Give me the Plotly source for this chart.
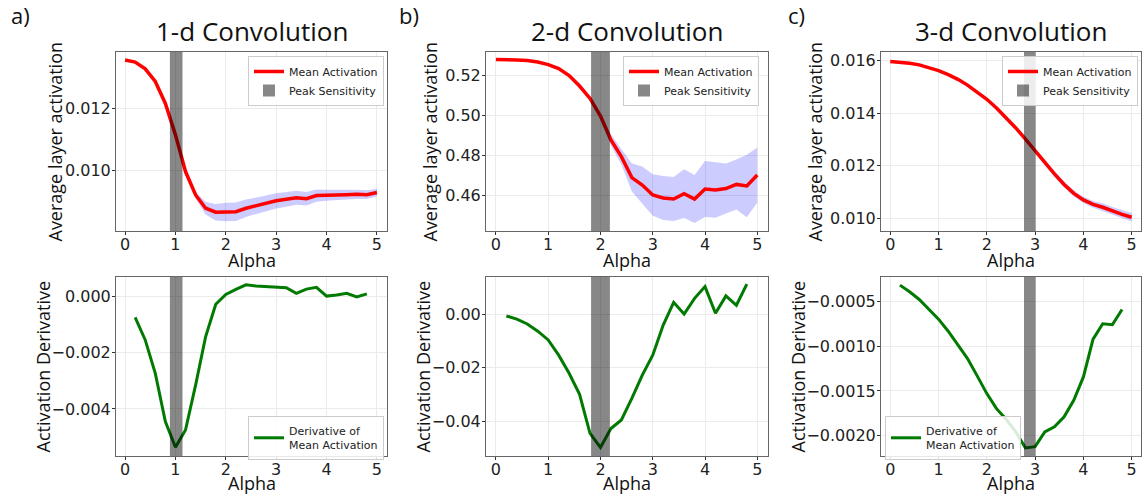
import plotly.graph_objects as go

# ---------------- data ----------------
alpha = [0.0, 0.2, 0.4, 0.6, 0.8, 1.0, 1.2, 1.4, 1.6, 1.8, 2.0, 2.2, 2.4, 2.6, 2.8,
         3.0, 3.2, 3.4, 3.6, 3.8, 4.0, 4.2, 4.4, 4.6, 4.8, 5.0]
alpha_d = [0.2, 0.4, 0.6, 0.8, 1.0, 1.2, 1.4, 1.6, 1.8, 2.0, 2.2, 2.4, 2.6, 2.8,
           3.0, 3.2, 3.4, 3.6, 3.8, 4.0, 4.2, 4.4, 4.6, 4.8]

mean_1d = [0.01357, 0.01350, 0.01328, 0.01287, 0.01216, 0.01114, 0.00995, 0.00919,
           0.00876, 0.00863, 0.00864, 0.00865, 0.00876, 0.00884, 0.00892, 0.00900,
           0.00905, 0.00910, 0.00907, 0.00917, 0.00918, 0.00918, 0.00920, 0.00921,
           0.00920, 0.00927]
std_1d = [0.00002, 0.00002, 0.00002, 0.00003, 0.00003, 0.00004, 0.00006, 0.00011,
          0.00020, 0.00027, 0.00030, 0.00030, 0.00028, 0.00027, 0.00026, 0.00025,
          0.00024, 0.00023, 0.00022, 0.00020, 0.00018, 0.00017, 0.00016, 0.00015,
          0.00014, 0.00012]
deriv_1d = [-0.00074, -0.00154, -0.00273, -0.00445, -0.00536, -0.00475, -0.00315,
            -0.00142, -0.00027, 0.00008, 0.00026, 0.00042, 0.00038, 0.00036, 0.00033,
            0.00032, 0.00012, 0.00027, 0.00033, 0.00002, 0.00006, 0.00012, -0.00001,
            0.00010]

mean_2d = [0.5277, 0.5277, 0.5275, 0.5272, 0.5265, 0.5252, 0.5232, 0.5197, 0.5145,
           0.5083, 0.4995, 0.4875, 0.4792, 0.4687, 0.4650, 0.4600, 0.4585, 0.4580,
           0.4607, 0.4580, 0.4630, 0.4625, 0.4632, 0.4653, 0.4645, 0.4700]
std_2d = [0.0002, 0.0002, 0.0002, 0.0002, 0.0002, 0.0003, 0.0004, 0.0005, 0.0008,
          0.0012, 0.0018, 0.0027, 0.0040, 0.0070, 0.0093, 0.0104, 0.0110, 0.0110,
          0.0122, 0.0120, 0.0140, 0.0139, 0.0125, 0.0125, 0.0156, 0.0138]
deriv_2d = [-0.0006, -0.0018, -0.0036, -0.0063, -0.0096, -0.0153, -0.0221, -0.0300,
            -0.0446, -0.0499, -0.0428, -0.0396, -0.0315, -0.0228, -0.0153, -0.0040,
            0.0045, 0.0001, 0.0060, 0.0104, 0.0004, 0.0069, 0.0034, 0.0113]

mean_3d = [0.01597, 0.01594, 0.01590, 0.01584, 0.01573, 0.01562, 0.01547, 0.01529,
           0.01507, 0.01482, 0.01453, 0.01420, 0.01384, 0.01344, 0.01301, 0.01256,
           0.01212, 0.01169, 0.01129, 0.01095, 0.01070, 0.01053, 0.01042, 0.01028,
           0.01015, 0.01004]
std_3d = [0.00002, 0.00002, 0.00002, 0.00002, 0.00002, 0.00002, 0.00002, 0.00002,
          0.00002, 0.00003, 0.00003, 0.00003, 0.00004, 0.00005, 0.00007, 0.00009,
          0.00010, 0.00011, 0.00012, 0.00012, 0.00012, 0.00013, 0.00015, 0.00015,
          0.00015, 0.00016]
deriv_3d = [-0.000313, -0.000388, -0.000474, -0.000582, -0.000695, -0.000830,
            -0.000987, -0.001137, -0.001331, -0.001530, -0.001699, -0.001818,
            -0.001960, -0.002140, -0.002125, -0.001960, -0.001903, -0.001791,
            -0.001605, -0.001343, -0.000920, -0.000747, -0.000758, -0.000586]

titles = ["1-d Convolution", "2-d Convolution", "3-d Convolution"]
panel_labels = ["a)", "b)", "c)"]
peak_lo = [0.89, 1.82, 2.77]
peak_hi = [1.14, 2.18, 3.01]

# ---------------- layout geometry ----------------
W, H = 1145, 495
xdom_px = [(116, 387), (486, 768), (881, 1141)]
top_px = (52, 231)
bot_px = (277, 456)
xranges = [[-0.18, 5.2], [-0.19, 5.205], [-0.192, 5.193]]
top_ranges = [[0.008022, 0.013827], [0.442, 0.5315], [0.009517, 0.01633]]
bot_ranges = [[-0.005674, 0.0007], [-0.0531, 0.014], [-0.00223, -0.000222]]
top_ticks = [dict(dtick=0.002, tickformat=".3f"), dict(dtick=0.02, tickformat=".2f"),
             dict(dtick=0.002, tickformat=".3f")]
bot_ticks = [dict(dtick=0.002, tickformat=".3f"), dict(dtick=0.02, tickformat=".2f"),
             dict(dtick=0.0005, tickformat=".4f")]

means = [mean_1d, mean_2d, mean_3d]
stds = [std_1d, std_2d, std_3d]
derivs = [deriv_1d, deriv_2d, deriv_3d]

TICKFONT = dict(family="DejaVu Sans", size=16, color="#222")
LABELFONT = dict(family="Open Sans", size=18, color="#111")
GRID = "#ebebeb"
FRAME = "#666666"
BAR = "rgba(0,0,0,0.47)"

fig = go.Figure()

def ydom(px):
    return [1 - px[1] / H, 1 - px[0] / H]

annotations = []
shapes = []
layout_axes = {}
top_legends = ["legend7", "legend3", "legend5"]
bot_legends = ["legend2", "legend4", "legend6"]

for i in range(3):
    top_idx = i + 1
    bot_idx = i + 4
    xt = "x" if top_idx == 1 else f"x{top_idx}"
    yt = "y" if top_idx == 1 else f"y{top_idx}"
    xb = f"x{bot_idx}"
    yb = f"y{bot_idx}"
    xd = [xdom_px[i][0] / W, xdom_px[i][1] / W]
    leg_top = top_legends[i]
    leg_bot = bot_legends[i]

    upper = [m + s for m, s in zip(means[i], stds[i])]
    lower = [m - s for m, s in zip(means[i], stds[i])]
    fig.add_trace(go.Scatter(x=alpha, y=upper, xaxis=xt, yaxis=yt, mode="lines",
                             line=dict(width=0, color="rgba(0,0,255,0)"),
                             showlegend=False, hoverinfo="skip"))
    fig.add_trace(go.Scatter(x=alpha, y=lower, xaxis=xt, yaxis=yt, mode="lines",
                             line=dict(width=0, color="rgba(0,0,255,0)"),
                             fill="tonexty", fillcolor="rgba(0,0,255,0.2)",
                             showlegend=False, hoverinfo="skip"))
    fig.add_trace(go.Scatter(x=alpha, y=means[i], xaxis=xt, yaxis=yt, mode="lines",
                             line=dict(color="#ff0000", width=3.5),
                             name="Mean Activation", legend=leg_top, legendrank=1))
    fig.add_trace(go.Scatter(x=alpha_d, y=derivs[i], xaxis=xb, yaxis=yb, mode="lines",
                             line=dict(color="#007a00", width=3),
                             name="Derivative of<br>Mean Activation",
                             legend=leg_bot, showlegend=(i != 1)))

    shapes.append(dict(type="rect", xref=xb, yref=f"{yb} domain", x0=peak_lo[i],
                       x1=peak_hi[i], y0=0, y1=1, fillcolor=BAR, line=dict(width=0),
                       layer="above"))
    shapes.append(dict(type="rect", xref=xt, yref=f"{yt} domain", x0=peak_lo[i],
                       x1=peak_hi[i], y0=0, y1=1, fillcolor=BAR, line=dict(width=0),
                       layer="above", showlegend=True, legend=leg_top,
                       legendrank=2000, name="Peak Sensitivity"))

    common_x = dict(range=xranges[i], dtick=1, tick0=0, showgrid=True, gridcolor=GRID,
                    zeroline=False, showline=True, linecolor=FRAME, linewidth=1,
                    mirror=True, ticks="outside", ticklen=3, tickcolor="#333",
                    tickfont=TICKFONT, ticklabelstandoff=-4)
    common_y = dict(showgrid=True, gridcolor=GRID, zeroline=False, showline=True,
                    linecolor=FRAME, linewidth=1, mirror=True, ticks="outside",
                    ticklen=3, tickcolor="#333", tickfont=TICKFONT,
                    exponentformat="none", ticklabelstandoff=-2)
    layout_axes[xt.replace("x", "xaxis")] = dict(domain=xd, anchor=yt, **common_x)
    layout_axes[yt.replace("y", "yaxis")] = dict(domain=ydom(top_px), anchor=xt,
                                                 range=top_ranges[i], **top_ticks[i],
                                                 **common_y)
    layout_axes[xb.replace("x", "xaxis")] = dict(domain=xd, anchor=yb, **common_x)
    layout_axes[yb.replace("y", "yaxis")] = dict(domain=ydom(bot_px), anchor=xb,
                                                 range=bot_ranges[i], **bot_ticks[i],
                                                 **common_y)

    xc = (xdom_px[i][0] + xdom_px[i][1]) / 2 / W
    annotations.append(dict(text=titles[i], x=xc, y=1 - 31 / H, xref="paper",
                            yref="paper", showarrow=False, xanchor="center",
                            yanchor="middle",
                            font=dict(family="Open Sans", size=26, color="#111")))
    lab_x = [9, 397, 786][i]
    annotations.append(dict(text=panel_labels[i], x=lab_x / W, y=1 - 15 / H,
                            xref="paper", yref="paper", showarrow=False,
                            xanchor="left", yanchor="middle",
                            font=dict(family="Open Sans", size=22, color="#111")))
    annotations.append(dict(text="Alpha", x=xc, y=1 - 260 / H, xref="paper",
                            yref="paper", showarrow=False, xanchor="center",
                            yanchor="middle", font=LABELFONT))
    annotations.append(dict(text="Alpha", x=xc, y=1 - 483 / H, xref="paper",
                            yref="paper", showarrow=False, xanchor="center",
                            yanchor="middle", font=LABELFONT))
    ytx = [55, 430, 815][i]
    ybx = [42, 422, 797][i]
    annotations.append(dict(text="Average layer activation", x=ytx / W,
                            y=1 - (top_px[0] + top_px[1]) / 2 / H, xref="paper",
                            yref="paper", showarrow=False, textangle=-90,
                            xanchor="center", yanchor="middle", font=LABELFONT))
    annotations.append(dict(text="Activation Derivative", x=ybx / W,
                            y=1 - (bot_px[0] + bot_px[1]) / 2 / H, xref="paper",
                            yref="paper", showarrow=False, textangle=-90,
                            xanchor="center", yanchor="middle", font=LABELFONT))

LEGFONT = dict(family="DejaVu Sans", size=11, color="#222")
def legend(x, y, xanchor):
    return dict(x=x, y=y, xref="paper", yref="paper", xanchor=xanchor, yanchor="top",
                bgcolor="rgba(255,255,255,0.85)", bordercolor="#cccccc",
                borderwidth=1, font=LEGFONT, itemwidth=30, tracegroupgap=0)

fig.update_layout(
    width=W, height=H, autosize=False,
    margin=dict(l=0, r=0, t=0, b=0),
    paper_bgcolor="white", plot_bgcolor="white",
    annotations=annotations, shapes=shapes,
    showlegend=True,
    legend=dict(visible=False),
    legend7=legend(384 / W, 1 - 56 / H, "right"),
    legend2=legend(384 / W, 1 - 416 / H, "right"),
    legend3=legend(759 / W, 1 - 56 / H, "right"),
    legend4=dict(visible=False),
    legend5=legend(1138 / W, 1 - 56 / H, "right"),
    legend6=legend(885 / W, 1 - 416 / H, "left"),
    **layout_axes,
)

fig.write_html("out.html", config={"displayModeBar": False},
               post_script="document.body.style.margin='0';"
                           "document.body.style.overflow='hidden';")
